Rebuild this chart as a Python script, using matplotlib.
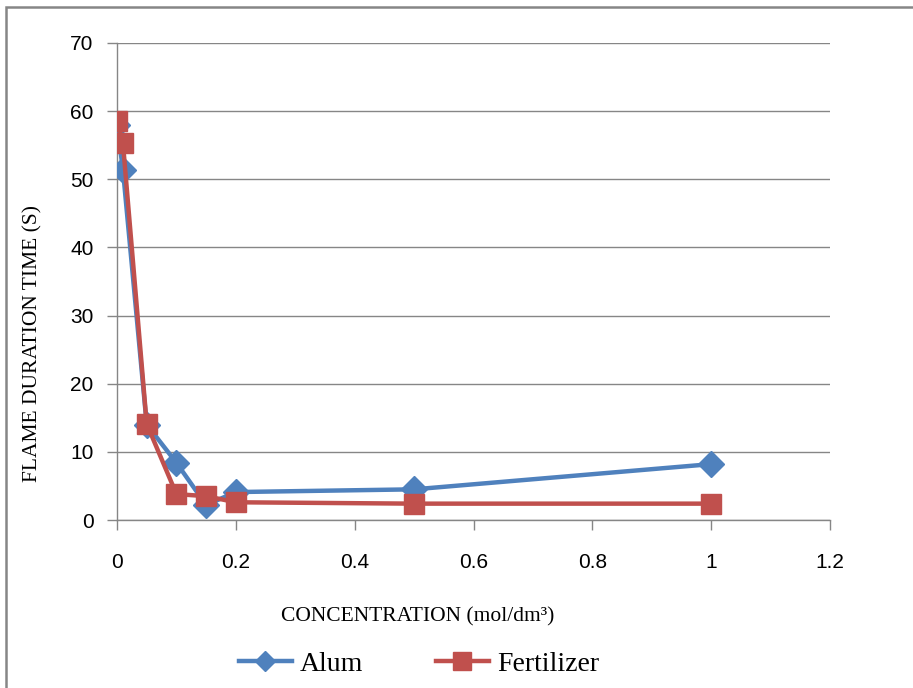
import matplotlib.pyplot as plt
from matplotlib.patches import Rectangle

# data
konz = [0, 0.01, 0.05, 0.1, 0.15, 0.2, 0.5, 1]
alum = [58.0, 51.4, 14.0, 8.4, 2.2, 4.1, 4.5, 8.2]
fertilizer = [58.6, 55.3, 14.1, 3.8, 3.5, 2.6, 2.4, 2.4]

blau = '#4F81BD'
rot = '#C0504D'
grau = '#868686'

fig = plt.figure(figsize=(9.13, 6.88), dpi=100)

# rahmen um das ganze diagramm (rechts/unten abgeschnitten)
fig.patches.append(Rectangle((6 / 913, -0.1), 1.2, 1 - 7 / 688 + 0.1,
                             transform=fig.transFigure, fill=False,
                             edgecolor=grau, linewidth=1.8))

ax = fig.add_axes([117 / 913, 1 - 520 / 688, 713 / 913, 477 / 688])

ax.plot(konz, alum, color=blau, marker='D', markersize=13, linewidth=3.2,
        label='Alum', zorder=3)
ax.plot(konz, fertilizer, color=rot, marker='s', markersize=14, linewidth=3.2,
        label='Fertilizer', zorder=4)

ax.set_xlim(0, 1.2)
ax.set_ylim(0, 70)
ax.set_xticks([0, 0.2, 0.4, 0.6, 0.8, 1, 1.2])
ax.set_xticklabels(['0', '0.2', '0.4', '0.6', '0.8', '1', '1.2'])
ax.set_yticks(range(0, 71, 10))

ax.grid(True, axis='y', color=grau, linewidth=1)
ax.set_axisbelow(True)
for s in ['top', 'right']:
    ax.spines[s].set_visible(False)
for s in ['left', 'bottom']:
    ax.spines[s].set_color(grau)
    ax.spines[s].set_linewidth(1)
ax.tick_params(axis='both', colors=grau, length=7, width=1,
               labelcolor='black', labelsize=15)
ax.tick_params(axis='y', pad=10)
ax.tick_params(axis='x', pad=17)
for t in ax.get_xticklabels() + ax.get_yticklabels():
    t.set_fontfamily('Liberation Sans')

ax.set_ylabel('FLAME DURATION TIME (S)', fontfamily='Liberation Serif',
              fontsize=15.5)
ax.yaxis.set_label_coords(-0.104, 0.371)

fig.text(418 / 913, 1 - 617 / 688, 'CONCENTRATION (mol/dm³)',
         fontfamily='Liberation Serif', fontsize=15.5, ha='center', va='center')

leg = fig.legend(loc='center', bbox_to_anchor=(419 / 913, 1 - 664 / 688),
                 ncol=2, frameon=False, prop={'family': 'Liberation Serif', 'size': 20},
                 handlelength=1.9, handletextpad=0.3, columnspacing=2.6)
# marker in der legende etwas kleiner
leg.legend_handles[0].set_markersize(10)
leg.legend_handles[1].set_markersize(12.5)

plt.savefig('out.png', dpi=100)
